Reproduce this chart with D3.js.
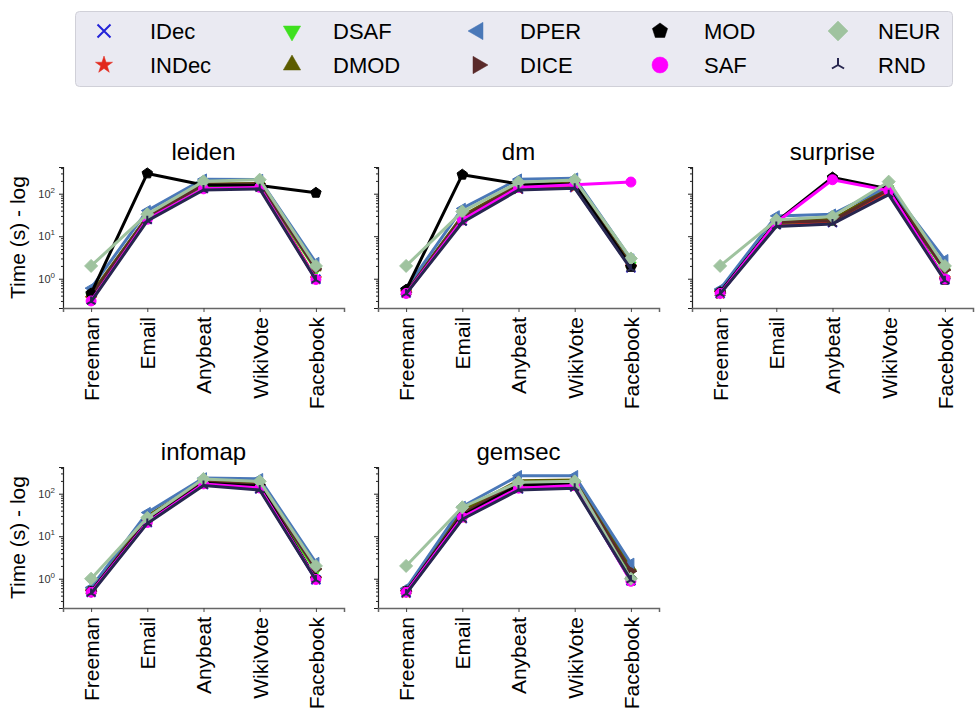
<!DOCTYPE html>
<html>
<head>
<meta charset="utf-8">
<script src="https://cdn.jsdelivr.net/npm/d3@7"></script>
<style>
  body { margin: 0; background: #fff; }
  svg { font-family: "Liberation Sans", Arial, sans-serif; }
</style>
</head>
<body>
<div id="chart"></div>
<script>
// datasets on the x axis, one panel per algorithm
const datasets = ['Freeman', 'Email', 'Anybeat', 'WikiVote', 'Facebook'];
const algorithms = ['leiden', 'dm', 'surprise', 'infomap', 'gemsec'];
const methods = ['IDec', 'INDec', 'DSAF', 'DMOD', 'DPER', 'DICE', 'MOD', 'SAF', 'NEUR', 'RND'];

// time in seconds, one row per method (same order as methods)
const leidenTimes = [
    [0.33, 25, 135, 150, 0.97],
    [0.34, 26, 140, 155, 1.0],
    [0.38, 27, 150, 160, 1.6],
    [0.44, 29, 170, 175, 1.8],
    [0.6, 40, 220, 215, 2.4],
    [0.4, 28, 160, 170, 1.7],
    [0.45, 300, 160, 155, 105],
    [0.3, 25, 130, 141, 0.96],
    [2.0, 33, 195, 214, 2.0],
    [0.29, 23, 122, 130, 0.93]
];
const dmTimes = [
    [0.46, 23, 128, 140, 1.8],
    [0.47, 24, 132, 145, 1.9],
    [0.48, 27, 150, 165, 2.1],
    [0.5, 30, 165, 180, 2.2],
    [0.59, 45, 220, 232, 2.9],
    [0.48, 28, 155, 170, 2.0],
    [0.55, 280, 170, 165, 1.9],
    [0.45, 24, 140, 163, 188],
    [2.0, 38, 185, 210, 3.0],
    [0.44, 21, 122, 135, 1.7]
];
const surpriseTimes = [
    [0.45, 19, 21, 110, 0.95],
    [0.45, 20, 22, 115, 1.0],
    [0.46, 21, 24, 130, 1.5],
    [0.47, 22, 25, 140, 1.9],
    [0.57, 30, 33, 150, 2.8],
    [0.46, 21, 23, 125, 1.6],
    [0.48, 22, 240, 130, 0.95],
    [0.45, 21, 213, 118, 0.99],
    [2.0, 24, 29, 192, 2.0],
    [0.44, 17, 19.5, 95, 0.9]
];
const infomapTimes = [
    [0.48, 21, 165, 130, 0.95],
    [0.49, 22, 170, 135, 1.0],
    [0.5, 25, 180, 150, 1.5],
    [0.52, 30, 195, 170, 1.9],
    [0.62, 36, 235, 225, 2.4],
    [0.5, 24, 185, 160, 1.7],
    [0.5, 22, 175, 150, 1.0],
    [0.48, 21, 170, 136, 0.96],
    [1.0, 27, 223, 195, 2.0],
    [0.45, 20, 155, 122, 0.93]
];
const gemsecTimes = [
    [0.46, 26, 130, 145, 0.9],
    [0.47, 27, 135, 150, 0.92],
    [0.5, 32, 170, 180, 1.4],
    [0.52, 40, 202, 210, 1.85],
    [0.59, 50, 265, 265, 2.3],
    [0.5, 34, 180, 190, 1.5],
    [0.5, 30, 160, 170, 1.0],
    [0.48, 28, 135, 155, 0.87],
    [2.0, 48, 185, 195, 1.0],
    [0.44, 25, 122, 135, 0.93]
];
const yTicks = [1, 10, 100];

const times = [leidenTimes, dmTimes, surpriseTimes, infomapTimes, gemsecTimes];

// styles per method
const colors = ['#2323d8', '#e2281c', '#3fe01f', '#5c5c00', '#4a78b8', '#5a2a2a', '#000000', '#ff00ff', '#9fc39f', '#27264f'];
const shapes = ['x', 'star', 'tri_down', 'tri_up', 'tri_left', 'tri_right', 'pentagon', 'circle', 'diamond', 'tri_y'];
const strokeOnly = { x: true, tri_y: true };

function markerPath (shape, r) {
    let p = d3.path();
    if (shape == 'x') {
        p.moveTo(-r, -r); p.lineTo(r, r);
        p.moveTo(-r, r); p.lineTo(r, -r);
    } else if (shape == 'tri_y') {
        // upside-down Y
        [90, 210, 330].forEach(a => {
            let t = a * Math.PI / 180;
            p.moveTo(0, 0); p.lineTo(r * Math.cos(t), -r * Math.sin(t));
        });
    } else if (shape == 'circle') {
        p.arc(0, 0, r, 0, 2 * Math.PI);
    } else if (shape == 'diamond') {
        p.moveTo(0, -r); p.lineTo(r, 0); p.lineTo(0, r); p.lineTo(-r, 0); p.closePath();
    } else if (shape == 'star' || shape == 'pentagon') {
        let n = shape == 'star' ? 10 : 5;
        for (let i = 0; i < n; i++) {
            let rr = (shape == 'star' && i % 2 == 1) ? r * 0.382 : r;
            let t = -Math.PI / 2 + i * 2 * Math.PI / n;
            if (i == 0) p.moveTo(rr * Math.cos(t), rr * Math.sin(t));
            else p.lineTo(rr * Math.cos(t), rr * Math.sin(t));
        }
        p.closePath();
    } else {
        // triangles, rotated from pointing up
        let rot = { tri_up: -90, tri_down: 90, tri_left: 180, tri_right: 0 }[shape];
        for (let i = 0; i < 3; i++) {
            let t = (rot + i * 120) * Math.PI / 180;
            if (i == 0) p.moveTo(r * Math.cos(t), r * Math.sin(t));
            else p.lineTo(r * Math.cos(t), r * Math.sin(t));
        }
        p.closePath();
    }
    return p.toString();
}

const plotSize = { tri_up: 6, tri_down: 6, tri_left: 6, tri_right: 6, diamond: 6.5, circle: 5, pentagon: 5.5, star: 6, x: 4.5, tri_y: 5 };
const legendSize = { tri_up: 10, tri_down: 10, tri_left: 10, tri_right: 10, diamond: 10, circle: 8, pentagon: 8, star: 9, x: 6.5, tri_y: 7 };

const width = 975, height = 710;
const svg = d3.select('#chart').append('svg')
    .attr('width', width)
    .attr('height', height);

// shared log y domain with matplotlib-like 5% margin
let allVals = times.flat(2);
let lo = Math.log10(d3.min(allVals)), hi = Math.log10(d3.max(allVals));
let pad = (hi - lo) * 0.05;
const yDomain = [Math.pow(10, lo - pad), Math.pow(10, hi + pad)];

const panelW = 281, panelH = 141;
const lefts = [63, 378, 692];
const tops = [167, 467];

let minorTicks = [];
for (let e = -1; e <= 3; e++) {
    for (let m = 2; m <= 9; m++) {
        let v = m * Math.pow(10, e);
        if (v >= yDomain[0] && v <= yDomain[1]) minorTicks.push(v);
    }
}

algorithms.forEach((alg, ai) => {
    let col = ai % 3, row = Math.floor(ai / 3);
    let g = svg.append('g').attr('transform', 'translate(' + lefts[col] + ',' + tops[row] + ')');

    let x = d3.scalePoint().domain(datasets).range([0, panelW]).padding(0.5);
    let y = d3.scaleLog().domain(yDomain).range([panelH, 0]);

    // y axis: major + minor ticks
    let yAxis = g.append('g').call(d3.axisLeft(y).tickValues(yTicks).tickSize(4).tickFormat(''));
    g.append('g').call(d3.axisLeft(y).tickValues(minorTicks).tickSize(2).tickFormat(''))
        .select('.domain').remove();
    yAxis.select('.domain').attr('stroke', '#222').attr('stroke-width', 1.2);
    g.selectAll('.tick line').attr('stroke', '#222');

    if (col == 0) {
        yTicks.forEach(v => {
            let t = g.append('text')
                .attr('x', -8)
                .attr('y', y(v) + 4)
                .attr('text-anchor', 'end')
                .attr('font-size', 11)
                .attr('fill', '#333');
            t.append('tspan').text('10');
            t.append('tspan').attr('dy', -5).attr('font-size', 8).text(Math.round(Math.log10(v)));
        });
        g.append('text')
            .attr('transform', 'translate(-38,' + panelH / 2 + ') rotate(-90)')
            .attr('text-anchor', 'middle')
            .attr('font-size', 21)
            .attr('fill', '#000')
            .text('Time (s) - log');
    }

    // x axis
    let xAxis = g.append('g')
        .attr('transform', 'translate(0,' + panelH + ')')
        .call(d3.axisBottom(x).tickSize(4));
    xAxis.select('.domain').attr('stroke', '#666').attr('stroke-width', 1.5);
    xAxis.selectAll('.tick line').attr('stroke', '#444');
    xAxis.selectAll('.tick text')
        .attr('font-size', 21)
        .attr('fill', '#000')
        .attr('font-family', '"Liberation Sans", Arial, sans-serif')
        .attr('transform', 'rotate(-90)')
        .attr('text-anchor', 'end')
        .attr('x', -9)
        .attr('y', 0)
        .attr('dy', '0.35em');

    g.append('text')
        .attr('x', panelW / 2)
        .attr('y', -7)
        .attr('text-anchor', 'middle')
        .attr('font-size', 24)
        .attr('fill', '#000')
        .text(alg);

    let line = d3.line()
        .x((d, i) => x(datasets[i]))
        .y(d => y(d));

    times[ai].forEach((vals, mi) => {
        let s = g.append('g');
        s.append('path')
            .attr('d', line(vals))
            .attr('fill', 'none')
            .attr('stroke', colors[mi])
            .attr('stroke-width', 3)
            .attr('stroke-linejoin', 'round');
        s.selectAll('path.mk')
            .data(vals)
            .enter().append('path')
            .attr('class', 'mk')
            .attr('transform', (d, i) => 'translate(' + x(datasets[i]) + ',' + y(d) + ')')
            .attr('d', markerPath(shapes[mi], plotSize[shapes[mi]]))
            .attr('fill', strokeOnly[shapes[mi]] ? 'none' : colors[mi])
            .attr('stroke', colors[mi])
            .attr('stroke-width', strokeOnly[shapes[mi]] ? 2 : 1);
    });
});

// legend
const legend = svg.append('g');
legend.append('rect')
    .attr('x', 75.5).attr('y', 11.5)
    .attr('width', 877).attr('height', 75)
    .attr('rx', 4)
    .attr('fill', '#eaeaf2')
    .attr('stroke', '#d0d0d8');

const legendMarkX = [104, 292, 478, 660, 838];
const legendTextX = [150, 333, 520, 704, 878];
const legendRowY = [31, 65];

methods.forEach((m, mi) => {
    let col = Math.floor(mi / 2), row = mi % 2;
    let shape = shapes[mi];
    legend.append('path')
        .attr('transform', 'translate(' + legendMarkX[col] + ',' + legendRowY[row] + ')')
        .attr('d', markerPath(shape, legendSize[shape]))
        .attr('fill', strokeOnly[shape] ? 'none' : colors[mi])
        .attr('stroke', colors[mi])
        .attr('stroke-width', strokeOnly[shape] ? 2 : 0.5);
    legend.append('text')
        .attr('x', legendTextX[col])
        .attr('y', legendRowY[row])
        .attr('dy', '0.35em')
        .attr('font-size', 22)
        .attr('fill', '#000')
        .text(m);
});
</script>
</body>
</html>
